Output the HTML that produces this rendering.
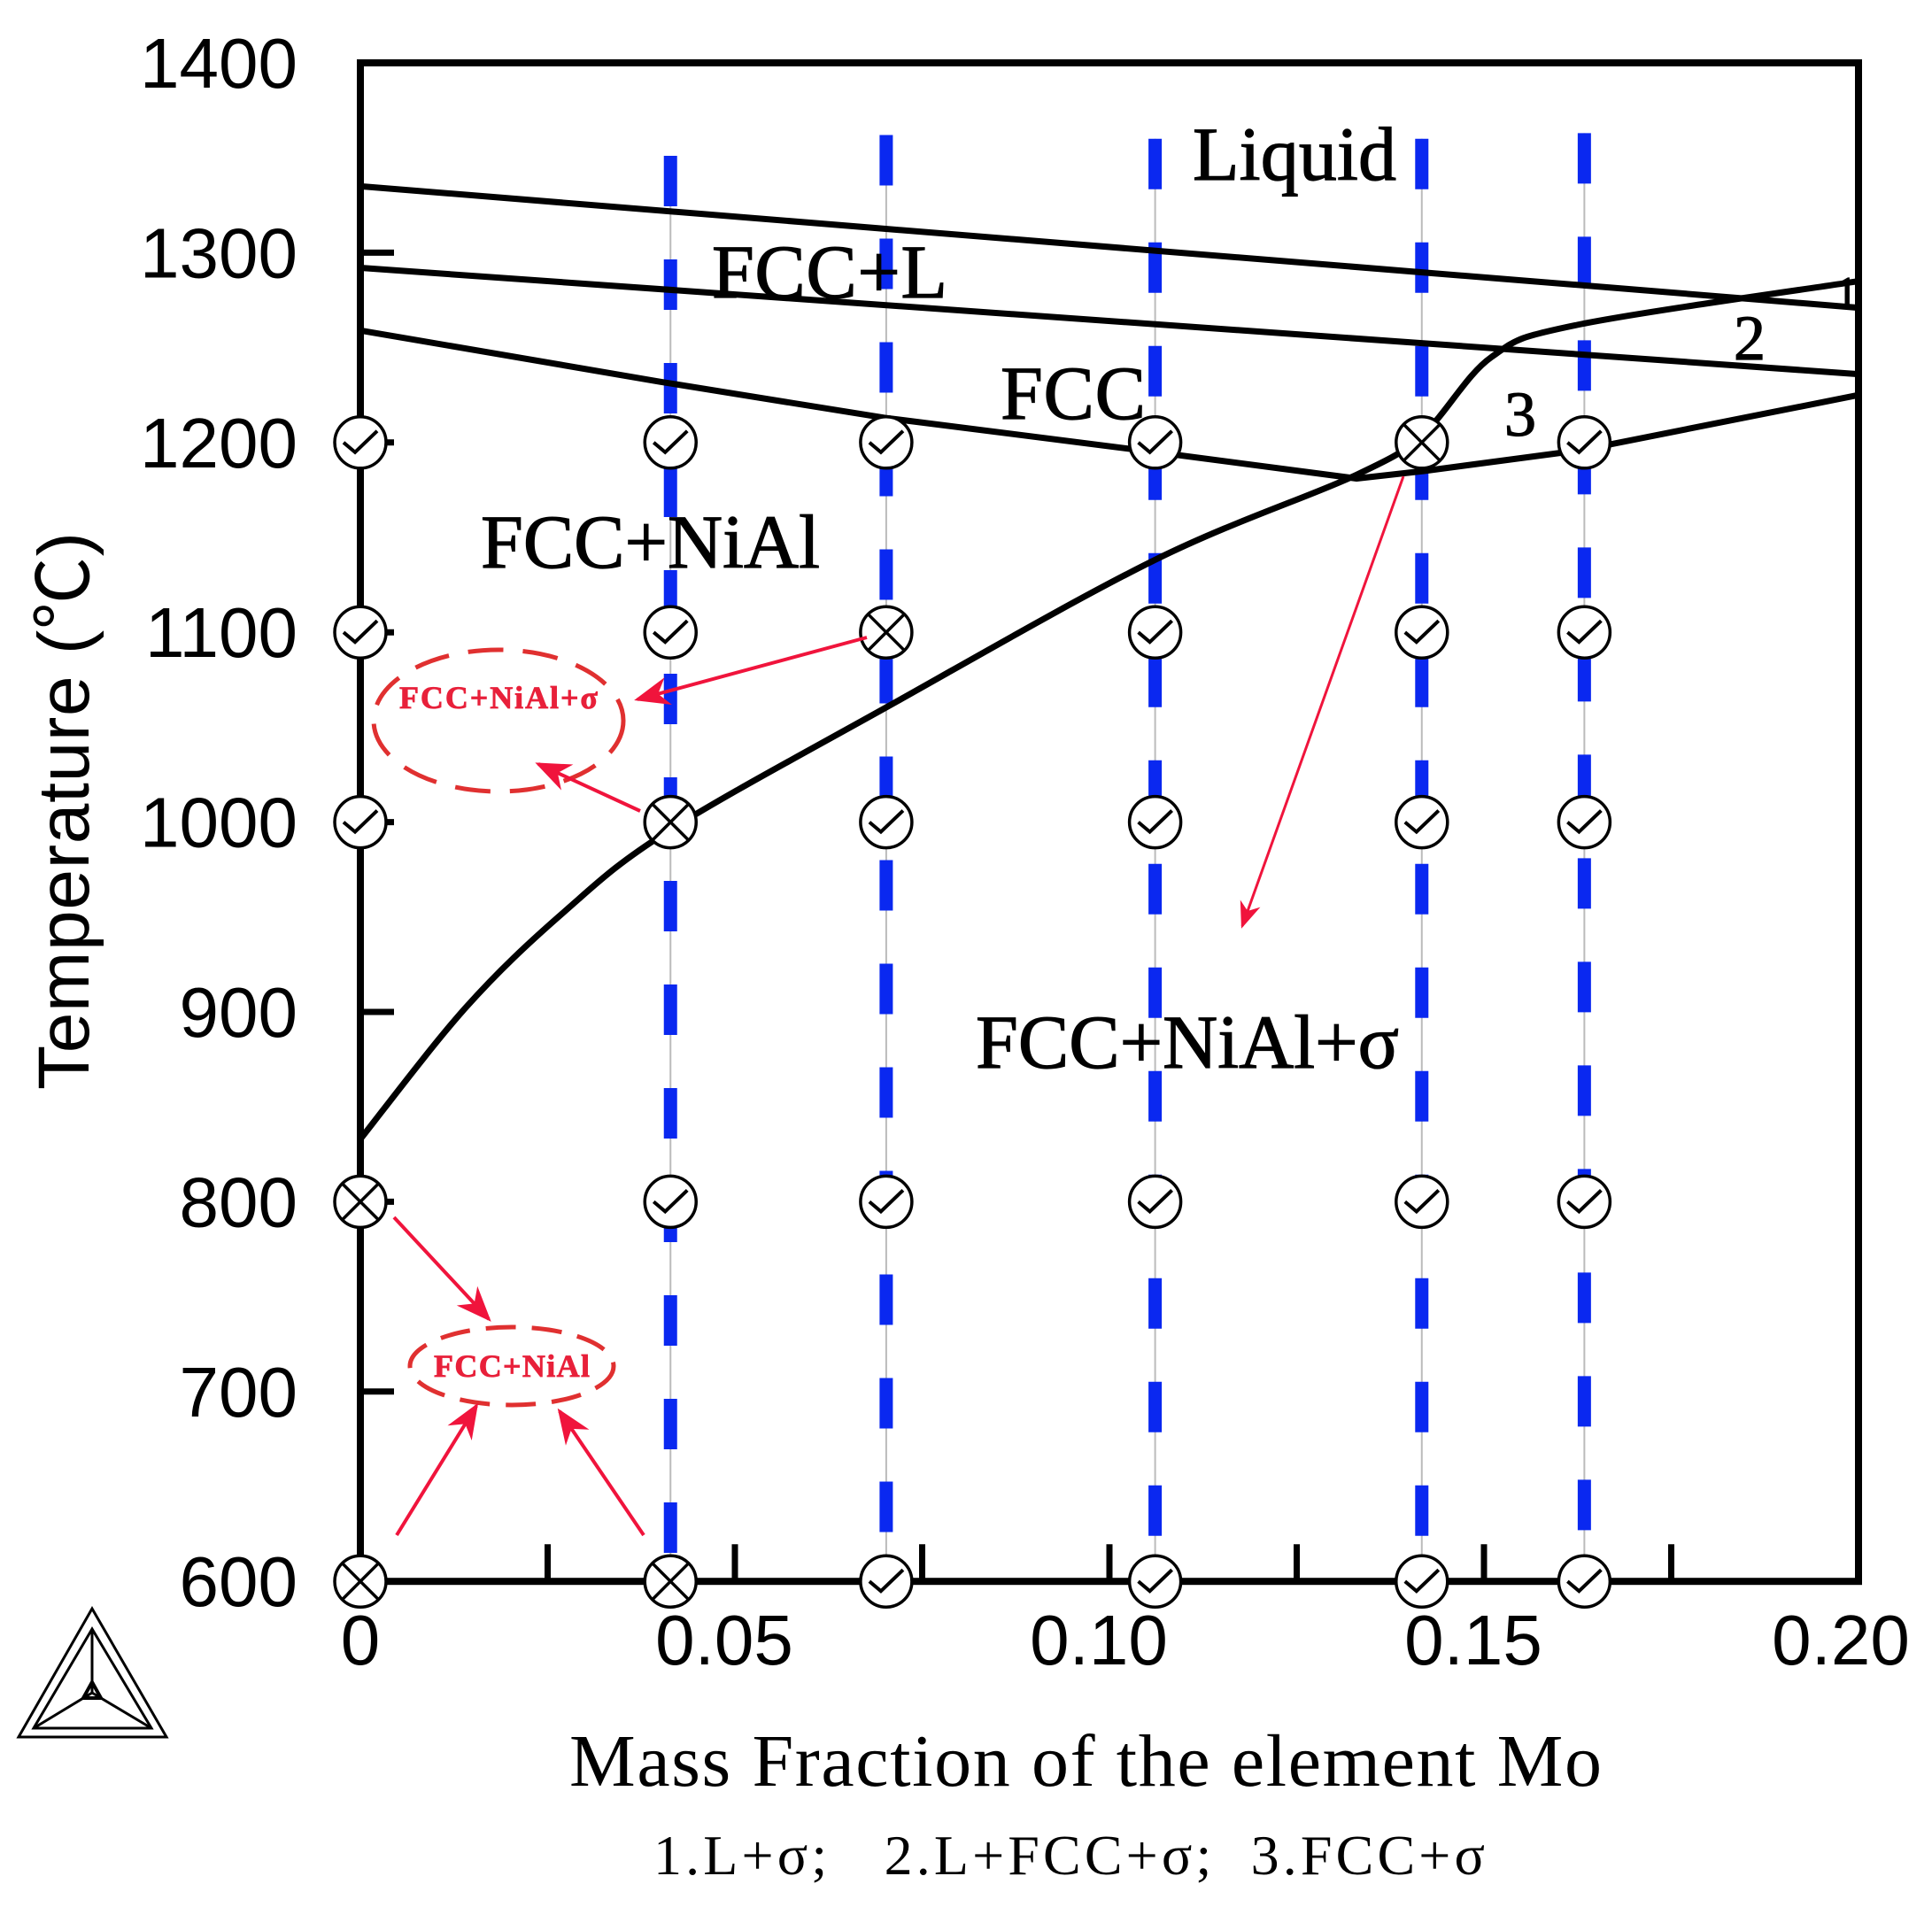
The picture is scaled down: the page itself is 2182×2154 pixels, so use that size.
<!DOCTYPE html>
<html><head><meta charset="utf-8"><style>html,body{margin:0;padding:0;background:#fff}svg{display:block}</style></head>
<body>
<svg id="chart" xmlns="http://www.w3.org/2000/svg" width="2182" height="2154" viewBox="0 0 2182 2154">
<defs><marker id="ah" markerWidth="10" markerHeight="8" refX="9" refY="4" orient="auto" markerUnits="strokeWidth"><path d="M0,0 L10,4 L0,8 L3,4 z" fill="#f0143c"/></marker></defs>
<g id="g-guides"></g>
<g id="g-curves"></g>
<g id="g-axes"></g>
<g id="g-markers"></g>
<g font-family="Liberation Serif, serif" fill="#000" stroke="#000" stroke-width="1.2">
<text x="1347" y="203" font-size="86" textLength="230">Liquid</text>
<text x="804" y="336" font-size="86" textLength="266">FCC+L</text>
<text x="1130" y="473" font-size="86" textLength="164">FCC</text>
<text x="543" y="641" font-size="86" textLength="383">FCC+NiAl</text>
<text x="1102" y="1206" font-size="86" textLength="478">FCC+NiAl+σ</text>
<text x="1699" y="492" font-size="72">3</text>
<text x="1958" y="406" font-size="72">2</text>
<text x="2073" y="347" font-size="50">1</text>
</g>
<g stroke="#f0143c" stroke-width="4" fill="none">
<ellipse cx="563" cy="814" rx="141" ry="80" stroke="#e03030" stroke-width="5" stroke-dasharray="40,22"/>
<ellipse cx="578" cy="1543" rx="115" ry="44" stroke="#e03030" stroke-width="5" stroke-dasharray="34,18"/>
<line x1="979" y1="720" x2="720" y2="790" marker-end="url(#ah)"/>
<line x1="723" y1="916" x2="608" y2="863" marker-end="url(#ah)"/>
<line x1="1585" y1="538" x2="1403" y2="1046" stroke-width="3" marker-end="url(#ah)"/>
<line x1="445" y1="1375" x2="552" y2="1490" marker-end="url(#ah)"/>
<line x1="448" y1="1734" x2="538" y2="1588" marker-end="url(#ah)"/>
<line x1="727" y1="1734" x2="632" y2="1594" marker-end="url(#ah)"/>
</g>
<g font-family="Liberation Serif, serif" font-weight="bold" fill="#e8203a" stroke="#e8203a" stroke-width="0.8">
<text x="563" y="800" font-size="36" text-anchor="middle" textLength="224">FCC+NiAl+σ</text>
<text x="578" y="1555" font-size="36" text-anchor="middle" textLength="176">FCC+NiAl</text>
</g>
<g id="g-ylabels" font-family="Liberation Sans, sans-serif" font-size="80" text-anchor="end" fill="#000"></g>
<g id="g-xlabels" font-family="Liberation Sans, sans-serif" font-size="80" text-anchor="middle" fill="#000"></g>
<text transform="translate(100,916) rotate(-90)" font-family="Liberation Sans, 'Noto Sans CJK SC', sans-serif" font-size="82" text-anchor="middle" textLength="630">Temperature (℃)</text>
<text x="643" y="2017" font-family="Liberation Serif, serif" font-size="84" textLength="1166">Mass Fraction of the element Mo</text>
<text x="738" y="2117" font-family="Liberation Serif, serif" font-size="64" textLength="939" xml:space="preserve">1.L+σ;   2.L+FCC+σ;  3.FCC+σ</text>
<g fill="none" stroke="#000" stroke-width="3">
<polygon points="104,1817 21,1962 188,1962"/>
<polygon points="104,1840 38,1952 171,1952"/>
<polyline points="104,1840 104,1912 38,1952"/>
<line x1="104" y1="1912" x2="171" y2="1952"/>
<polygon points="104,1900 94,1918 114,1918" stroke-width="4"/>
</g>
</svg>
<script>
const xTicks=[0,0.05,0.10,0.15,0.20];
const xTickLabels=["0","0.05","0.10","0.15","0.20"];
const xMinor=[0.025,0.05,0.075,0.1,0.125,0.15,0.175];
const yTicks=[600,700,800,900,1000,1100,1200,1300,1400];
const yTickLabels=["600","700","800","900","1000","1100","1200","1300","1400"];
const liquidusX=[0,0.2];
const liquidusT=[1335,1271];
const line2X=[0,0.2];
const line2T=[1292,1236];
const solidusX=[0,0.04,0.07,0.106,0.133,0.142,0.163,0.2];
const solidusT=[1259,1232,1213,1195,1181,1185,1196,1225];
const solvusX=[0,0.014,0.027,0.041,0.07,0.106,0.133,0.142,0.151,0.1625,0.2];
const solvusT=[833,902,952,995,1060,1138,1183,1205,1245,1262,1285];
const sampleX=[0,0.0414,0.0702,0.1061,0.1417,0.1634];
const sampleTopT=[1400,1351,1362,1360,1360,1363];
const sampleTemps=[600,800,1000,1100,1200];
// 1 = check, 0 = cross; rows per column following sampleTemps
const sampleResult=[[0,0,1,1,1],[0,1,0,1,1],[1,1,1,0,1],[1,1,1,1,1],[1,1,1,1,0],[1,1,1,1,1]];
const NS='http://www.w3.org/2000/svg';
const sx=v=>407+v*8460;
const sy=t=>71+(1400-t)*2.144;
function mk(tag,attrs,parent){const e=document.createElementNS(NS,tag);for(const k in attrs)e.setAttribute(k,attrs[k]);parent.appendChild(e);return e;}
const gG=document.getElementById('g-guides'),gC=document.getElementById('g-curves'),gA=document.getElementById('g-axes'),gM=document.getElementById('g-markers');
sampleX.forEach((x,i)=>{
  if(i>0){
  const top=sy(sampleTopT[i]);
  const l=mk('line',{x1:sx(x),x2:sx(x),y1:top,y2:sy(600),stroke:'#bbb','stroke-width':2},gG);
  
  
  const d=mk('line',{x1:sx(x),x2:sx(x),y1:top,y2:sy(600),stroke:'#0a28f0','stroke-width':15,'stroke-dasharray':'57,60'},gG);
  
  
  }
});
function curve(xs,ts,name,smooth){
  const P=xs.map((x,i)=>[sx(x),sy(ts[i])]);
  let d='M'+P[0][0]+','+P[0][1];
  for(let i=0;i<P.length-1;i++){
    if(!smooth){d+=' L'+P[i+1][0]+','+P[i+1][1];continue;}
    const p0=P[Math.max(0,i-1)],p1=P[i],p2=P[i+1],p3=P[Math.min(P.length-1,i+2)];
    const c1=[p1[0]+(p2[0]-p0[0])/6,p1[1]+(p2[1]-p0[1])/6];
    const c2=[p2[0]-(p3[0]-p1[0])/6,p2[1]-(p3[1]-p1[1])/6];
    d+=` C${c1[0]},${c1[1]} ${c2[0]},${c2[1]} ${p2[0]},${p2[1]}`;
  }
  const p=mk('path',{d:d,fill:'none',stroke:'#000','stroke-width':7,'stroke-linejoin':'round'},gC);
  
  
}
curve(liquidusX,liquidusT,'liquidus-line',false);
curve(line2X,line2T,'fcc-l-boundary',false);
curve(solidusX,solidusT,'solidus-line',false);
curve(solvusX,solvusT,'nial-solvus-curve',true);
const fr=mk('rect',{x:sx(0),y:sy(1400),width:sx(0.2)-sx(0),height:sy(600)-sy(1400),fill:'none',stroke:'#000','stroke-width':8},gA);


xMinor.forEach(v=>{
  const t=mk('line',{x1:sx(v),x2:sx(v),y1:sy(600),y2:sy(600)-42,stroke:'#000','stroke-width':7},gA);
  
  
});
yTicks.forEach((v,i)=>{
  if(v>600&&v<1400){
  const t=mk('line',{x1:sx(0),x2:sx(0)+38,y1:sy(v),y2:sy(v),stroke:'#000','stroke-width':7},gA);
  
  }
  const tx=mk('text',{x:336,y:sy(v)+28},document.getElementById('g-ylabels'));
  tx.textContent=yTickLabels[i];
  
  
});
xTicks.forEach((v,i)=>{
  const off=(i>0&&i<4)?12:(i===4?20:0);
  const tx=mk('text',{x:sx(v)-off,y:1880},document.getElementById('g-xlabels'));
  tx.textContent=xTickLabels[i];
  
  
});
sampleX.forEach((x,i)=>{
  sampleTemps.forEach((t,j)=>{
    const cx=sx(x),cy=sy(t),r=29;
    const g=mk('g',{},gM);
    
    
    mk('circle',{cx:cx,cy:cy,r:r,fill:'#fff',stroke:'#000','stroke-width':3.5},g);
    if(sampleResult[i][j]){
      mk('polyline',{points:`${cx-19},${cy} ${cx-6},${cy+11} ${cx+19},${cy-13}`,fill:'none',stroke:'#000','stroke-width':4},g);
    }else{
      const d=r*0.707;
      mk('line',{x1:cx-d,y1:cy-d,x2:cx+d,y2:cy+d,stroke:'#000','stroke-width':3.5},g);
      mk('line',{x1:cx-d,y1:cy+d,x2:cx+d,y2:cy-d,stroke:'#000','stroke-width':3.5},g);
    }
  });
});
</script>
</body></html>
